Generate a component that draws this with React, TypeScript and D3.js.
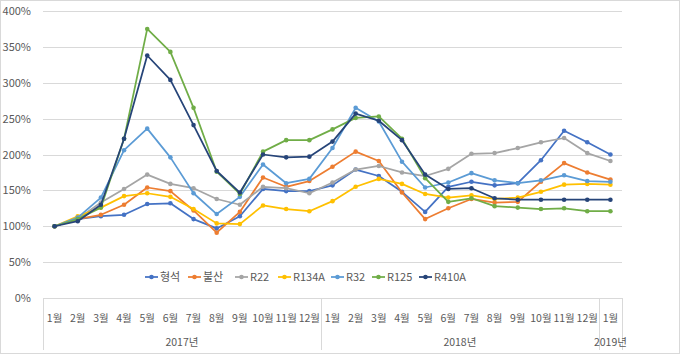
import React from "react";
import * as d3 from "d3";

const months = ["1월","2월","3월","4월","5월","6월","7월","8월","9월","10월","11월","12월","1월","2월","3월","4월","5월","6월","7월","8월","9월","10월","11월","12월","1월"];
const years = [
  { label: "2017년", start: 0, end: 12 },
  { label: "2018년", start: 12, end: 24 },
  { label: "2019년", start: 24, end: 25 },
];
const yTicks = [0, 0.5, 1, 1.5, 2, 2.5, 3, 3.5, 4];

const seriesNames = ["형석", "불산", "R22", "R134A", "R32", "R125", "R410A"];
const seriesColors = ["#4472C4", "#ED7D31", "#A5A5A5", "#FFC000", "#5B9BD5", "#70AD47", "#264478"];

const hyeongseok = [100, 110, 114, 116, 131, 132, 110, 97, 114, 152, 149, 149, 157, 179, 170, 148, 120, 155, 162, 157, 160, 192, 233, 217, 200];
const bulsan = [100, 110, 116, 130, 154, 149, 122, 91, 120, 168, 155, 163, 183, 204, 191, 147, 110, 125, 138, 133, 134, 162, 188, 175, 165];
const r22 = [100, 110, 133, 152, 172, 159, 153, 138, 130, 155, 153, 146, 161, 179, 184, 175, 170, 180, 201, 202, 209, 217, 223, 202, 191];
const r134a = [100, 114, 126, 142, 146, 141, 124, 104, 103, 129, 124, 121, 135, 155, 166, 159, 145, 140, 143, 138, 140, 148, 158, 159, 158];
const r32 = [100, 112, 140, 206, 236, 196, 146, 117, 141, 186, 160, 166, 209, 265, 246, 190, 154, 161, 174, 164, 160, 164, 171, 163, 162];
const r125 = [100, 110, 126, 222, 375, 343, 265, 176, 145, 204, 220, 220, 235, 251, 253, 222, 167, 134, 139, 128, 126, 124, 125, 121, 121];
const r410a = [100, 107, 130, 222, 338, 304, 241, 177, 147, 200, 196, 197, 218, 257, 247, 220, 172, 152, 153, 139, 137, 137, 137, 137, 137];

const seriesValues = [hyeongseok, bulsan, r22, r134a, r32, r125, r410a];

const W = 680;
const H = 354;
const left = 43;
const right = 622;
const top = 11;
const bottom = 298;
const font = "'Noto Sans CJK KR', 'Noto Sans', sans-serif";
const textColor = "#595959";

const legendX = [145, 188, 235, 278, 331, 372, 419];

export default function App() {
  const x = d3.scaleBand<number>().domain(d3.range(months.length)).range([left, right]).padding(0);
  const y = d3.scaleLinear().domain([0, 4]).range([bottom, top]);
  const cx = (i: number) => (x(i) as number) + x.bandwidth() / 2;
  const line = d3
    .line<number>()
    .x((_, i) => cx(i))
    .y((v) => y(v / 100));

  return (
    <div style={{ position: "absolute", left: 0, top: 0 }}>
      <svg width={W} height={H} style={{ display: "block", background: "#fff" }}>
        <rect x={0.5} y={0.5} width={W - 1} height={H - 1} fill="#fff" stroke="#D9D9D9" />
        {yTicks.map((t) => (
          <g key={t}>
            <line x1={left} x2={right} y1={Math.round(y(t)) + 0.5} y2={Math.round(y(t)) + 0.5} stroke="#D9D9D9" strokeWidth={1} />
            <text x={31} y={y(t) + 4} textAnchor="end" fontSize={11} fontFamily={font} fill={textColor}>
              {d3.format(".0%")(t)}
            </text>
          </g>
        ))}
        {/* category table lines */}
        {[0, 12, 24, 25].map((b) => {
          const xx = b === 25 ? right : (x(b) as number);
          return (
            <line key={b} x1={Math.round(xx) + 0.5} x2={Math.round(xx) + 0.5} y1={bottom} y2={350} stroke="#D9D9D9" />
          );
        })}
        {months.map((m, i) => (
          <text key={i} x={cx(i)} y={322} textAnchor="middle" fontSize={10.5} fontFamily={font} fill={textColor}>
            {m}
          </text>
        ))}
        {years.map((yr) => {
          const x0 = x(yr.start) as number;
          const x1 = yr.end >= months.length ? right : (x(yr.end) as number);
          return (
            <text key={yr.label} x={(x0 + x1) / 2} y={346} textAnchor="middle" fontSize={10.5} fontFamily={font} fill={textColor}>
              {yr.label}
            </text>
          );
        })}
        {seriesValues.map((vals, s) => (
          <g key={s}>
            <path d={line(vals) || ""} fill="none" stroke={seriesColors[s]} strokeWidth={1.75} strokeLinejoin="round" />
            {vals.map((v, i) => (
              <circle key={i} cx={cx(i)} cy={y(v / 100)} r={2.3} fill={seriesColors[s]} />
            ))}
          </g>
        ))}
        {seriesNames.map((n, s) => (
          <g key={n} transform={`translate(${legendX[s]},277)`}>
            <line x1={0} x2={13} y1={0} y2={0} stroke={seriesColors[s]} strokeWidth={1.75} />
            <circle cx={6.5} cy={0} r={2.3} fill={seriesColors[s]} />
            <text x={15} y={4} fontSize={11} fontFamily={font} fill={textColor}>
              {n}
            </text>
          </g>
        ))}
      </svg>
    </div>
  );
}
